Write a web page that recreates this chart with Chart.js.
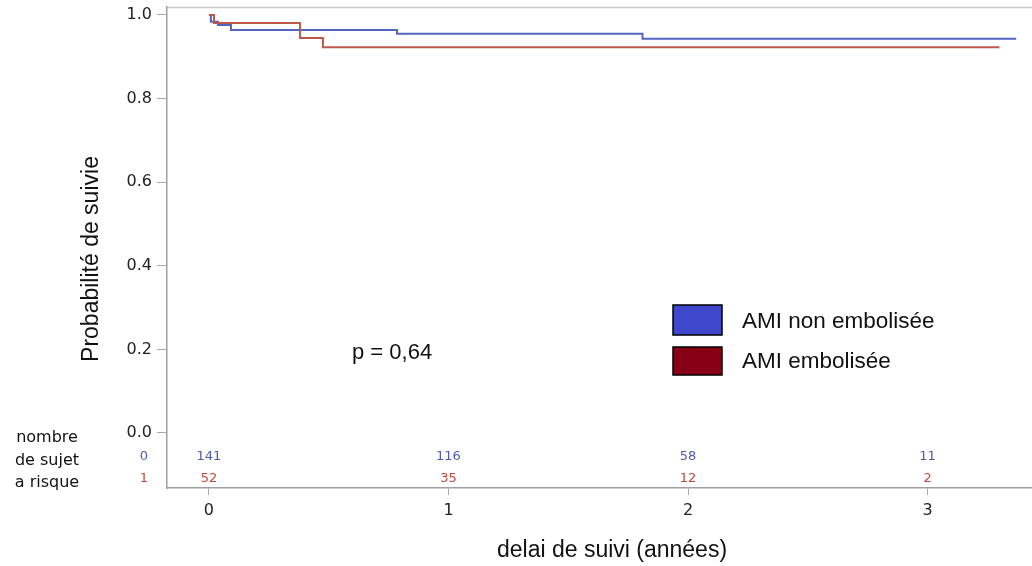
<!DOCTYPE html>
<html>
<head>
<meta charset="utf-8">
<script src="https://cdn.jsdelivr.net/npm/chart.js@4.4.1/dist/chart.umd.min.js"></script>
<style>
  body { margin: 0; background: #fff; }
</style>
</head>
<body>
<canvas id="kmChart" width="1032" height="566"></canvas>
<script>
// temps (années) et survie
const tempsNonEmb = [0, 0.008, 0.038, 0.092, 0.785, 1.81, 3.37];
const survieNonEmb = [1, 0.984, 0.976, 0.964, 0.955, 0.943, 0.943];
const tempsEmb = [0, 0.021, 0.38, 0.476, 3.30];
const survieEmb = [1, 0.981, 0.945, 0.923, 0.923];

// nombre de sujets a risque
const anneesRisque = [0, 1, 2, 3];
const risqueNonEmb = [141, 116, 58, 11];
const risqueEmb = [52, 35, 12, 2];

const yTicks = [0, 0.2, 0.4, 0.6, 0.8, 1.0];
const xTicks = [0, 1, 2, 3];

const labelsLegende = ['AMI non embolisée', 'AMI embolisée'];

function points(xs, ys) {
    return xs.map((x, i) => ({ x: x, y: ys[i] }));
}

// dessine les textes autour du graphe (tableau a risque, legende, titres)
const annotations = {
    id: 'annotations',
    afterDraw(chart) {
        const ctx = chart.ctx;
        const xs = chart.scales.x;
        const ys = chart.scales.y;
        const area = chart.chartArea;
        ctx.save();

        // ligne du haut
        ctx.strokeStyle = '#c8c8c8';
        ctx.lineWidth = 1.5;
        ctx.beginPath();
        ctx.moveTo(area.left, area.top + 0.5);
        ctx.lineTo(area.right, area.top + 0.5);
        ctx.stroke();

        // nombre a risque
        ctx.font = '13px "DejaVu Sans"';
        ctx.textAlign = 'center';
        ctx.textBaseline = 'middle';
        anneesRisque.forEach((a, i) => {
            ctx.fillStyle = '#4a5cb4';
            ctx.fillText(risqueNonEmb[i], xs.getPixelForValue(a), ys.getPixelForValue(-0.057));
            ctx.fillStyle = '#bf4a3c';
            ctx.fillText(risqueEmb[i], xs.getPixelForValue(a), ys.getPixelForValue(-0.108));
        });
        ctx.textAlign = 'right';
        ctx.fillStyle = '#4a5cb4';
        ctx.fillText('0', 148, ys.getPixelForValue(-0.057));
        ctx.fillStyle = '#bf4a3c';
        ctx.fillText('1', 148, ys.getPixelForValue(-0.108));

        ctx.fillStyle = '#111';
        ctx.font = '16px "DejaVu Sans"';
        ctx.textAlign = 'center';
        ctx.fillText('nombre', 47, 438);
        ctx.fillText('de sujet', 47, 461);
        ctx.fillText('a risque', 47, 483);

        // legende
        ctx.lineWidth = 1.5;
        ctx.strokeStyle = '#000';
        ctx.fillStyle = '#3f48cc';
        ctx.fillRect(673, 305, 49, 30);
        ctx.strokeRect(673, 305, 49, 30);
        ctx.fillStyle = '#880015';
        ctx.fillRect(673, 347, 49, 28);
        ctx.strokeRect(673, 347, 49, 28);
        ctx.fillStyle = '#111';
        ctx.font = '22.5px "Liberation Sans"';
        ctx.textAlign = 'left';
        ctx.fillText(labelsLegende[0], 742, 322);
        ctx.fillText(labelsLegende[1], 742, 362);

        ctx.font = '22px "Liberation Sans"';
        ctx.fillText('p = 0,64', 352, 353);

        // titres des axes
        ctx.font = '23px "Liberation Sans"';
        ctx.textAlign = 'center';
        ctx.fillText('delai de suivi (années)', 612, 551);
        ctx.translate(92, 259);
        ctx.rotate(-Math.PI / 2);
        ctx.fillText('Probabilité de suivie', 0, 0);
        ctx.restore();
    }
};

new Chart(document.getElementById('kmChart'), {
    type: 'line',
    data: {
        datasets: [
            {
                label: labelsLegende[1],
                data: points(tempsEmb, survieEmb),
                borderColor: '#c0574c',
                borderWidth: 2,
                pointRadius: 0,
                stepped: true,
                order: 0
            },
            {
                label: labelsLegende[0],
                data: points(tempsNonEmb, survieNonEmb),
                borderColor: '#5266c0',
                borderWidth: 2,
                pointRadius: 0,
                stepped: true,
                order: 1
            }
        ]
    },
    options: {
        responsive: false,
        animation: false,
        devicePixelRatio: 1,
        layout: { padding: { top: 7, right: 0, left: 0, bottom: 0 } },
        plugins: {
            legend: { display: false },
            tooltip: { enabled: false }
        },
        scales: {
            x: {
                type: 'linear',
                min: -0.175,
                max: 3.436,
                afterBuildTicks: (s) => { s.ticks = xTicks.map(v => ({ value: v })); },
                afterFit: (s) => { s.height = 78; s.paddingLeft = 0; s.paddingRight = 0; },
                border: { display: true, color: '#a0a0a0', width: 1.5 },
                grid: { drawOnChartArea: false, drawTicks: true, tickLength: 7, color: '#a8a8a8' },
                ticks: {
                    padding: 6,
                    color: '#222',
                    font: { family: 'DejaVu Sans', size: 16 },
                    callback: (v) => v.toString()
                }
            },
            y: {
                min: -0.1316,
                max: 1.019,
                afterBuildTicks: (s) => { s.ticks = yTicks.map(v => ({ value: v })); },
                afterFit: (s) => { s.width = 167; s.paddingTop = 0; s.paddingBottom = 0; },
                border: { display: true, color: '#a0a0a0', width: 1.5 },
                grid: { drawOnChartArea: false, drawTicks: true, tickLength: 10, color: '#a8a8a8' },
                ticks: {
                    padding: 5,
                    color: '#222',
                    font: { family: 'DejaVu Sans', size: 16 },
                    callback: (v) => v.toFixed(1)
                }
            }
        }
    },
    plugins: [annotations]
});
</script>
</body>
</html>
